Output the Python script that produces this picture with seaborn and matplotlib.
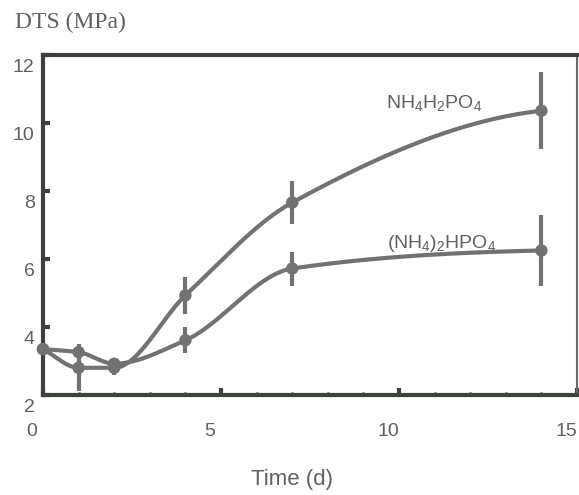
import numpy as np
import pandas as pd
import matplotlib
matplotlib.use("Agg")
import matplotlib.pyplot as plt
import matplotlib.transforms as mtransforms
import seaborn as sns

# dados
tempo = [0, 1, 2, 4, 7, 14]
dts_nh4h2po4 = [3.35, 2.80, 2.80, 4.93, 7.66, 10.36]
err_nh4h2po4 = [0.0, 0.69, 0.22, 0.55, 0.63, 1.13]
dts_nh42hpo4 = [3.35, 3.26, 2.92, 3.61, 5.72, 6.25]
err_nh42hpo4 = [0.0, 0.12, 0.15, 0.38, 0.50, 1.03]
rotulos = [r"NH$_4$H$_2$PO$_4$", r"(NH$_4$)$_2$HPO$_4$"]


def pchip(x, y, xs):
    # curva suave monotona entre os pontos medidos
    x = np.asarray(x, float)
    y = np.asarray(y, float)
    h = np.diff(x)
    d = np.diff(y) / h
    m = np.zeros_like(y)
    m[0], m[-1] = d[0], d[-1] * 0.3
    for k in range(1, len(x) - 1):
        if d[k - 1] * d[k] > 0:
            w1 = 2 * h[k] + h[k - 1]
            w2 = h[k] + 2 * h[k - 1]
            m[k] = (w1 + w2) / (w1 / d[k - 1] + w2 / d[k])
    idx = np.clip(np.searchsorted(x, xs) - 1, 0, len(x) - 2)
    t = (xs - x[idx]) / h[idx]
    h00 = 2 * t**3 - 3 * t**2 + 1
    h10 = t**3 - 2 * t**2 + t
    h01 = -2 * t**3 + 3 * t**2
    h11 = t**3 - t**2
    return h00 * y[idx] + h10 * h[idx] * m[idx] + h01 * y[idx + 1] + h11 * h[idx] * m[idx + 1]


sns.set_style("ticks")
plt.rcParams["font.family"] = ["Liberation Sans", "DejaVu Sans"]
plt.rcParams["mathtext.default"] = "regular"

cor_linha = "#727272"
cor_eixo = "#3d423d"
cor_texto = "#606060"

fig = plt.figure(figsize=(5.79, 4.95), dpi=100)
fig.patch.set_facecolor("white")
ax = fig.add_axes([43 / 579, 1 - 395 / 495, 534 / 579, 340 / 495])
ax.set_facecolor("white")

xs = np.linspace(0, 14, 300)
for y, e in [(dts_nh4h2po4, err_nh4h2po4), (dts_nh42hpo4, err_nh42hpo4)]:
    curva = pd.DataFrame({"t": xs, "v": pchip(tempo, y, xs)})
    sns.lineplot(data=curva, x="t", y="v", color=cor_linha, lw=3, ax=ax,
                 clip_on=False, zorder=3)
    ax.errorbar(tempo, y, yerr=e, fmt="none", ecolor=cor_linha, elinewidth=3,
                capsize=0, zorder=3, clip_on=False)
    sns.scatterplot(x=tempo, y=y, color=cor_linha, s=80, edgecolor="none",
                    ax=ax, zorder=4, clip_on=False)

ax.text(11.0, 10.6, rotulos[0], fontsize=14, color=cor_texto, ha="center",
        va="center")
ax.text(11.2, 6.45, rotulos[1], fontsize=14, color=cor_texto, ha="center",
        va="center")

ax.set_xlim(0, 15)
ax.set_ylim(2, 12)
ax.set_xticks([0, 5, 10, 15])
ax.set_xticks(range(0, 16), minor=True)
ax.set_yticks([2, 4, 6, 8, 10, 12])
ax.set_xlabel("")
ax.set_ylabel("")

for s in ax.spines.values():
    s.set_visible(True)
    s.set_color(cor_eixo)
    s.set_linewidth(3)
ax.spines["right"].set_linewidth(1.5)
ax.spines["right"].set_color("#6a6a6a")

ax.tick_params(axis="both", which="major", direction="in", length=5, width=3,
               colors=cor_eixo, labelcolor=cor_texto, labelsize=14)
ax.tick_params(axis="x", which="major", pad=20)
ax.tick_params(axis="y", which="major", pad=6)
ax.tick_params(axis="x", which="minor", direction="in", length=2, width=2,
               colors=cor_eixo)
ax.tick_params(top=False, right=False)

# os rotulos do original estao deslocados em relacao aos ticks
desloc_x = mtransforms.ScaledTranslation(-11 / 100, 0, fig.dpi_scale_trans)
desloc_y = mtransforms.ScaledTranslation(0, -10 / 100, fig.dpi_scale_trans)
for lb in ax.get_xticklabels():
    lb.set_transform(lb.get_transform() + desloc_x)
for lb in ax.get_yticklabels():
    lb.set_transform(lb.get_transform() + desloc_y)

fig.text(15 / 579, 1 - 22 / 495, "DTS (MPa)", fontsize=17, color=cor_texto,
         family=["Liberation Serif", "DejaVu Serif"], ha="left", va="center")
fig.text(292 / 579, 1 - 479 / 495, "Time (d)", fontsize=16, color=cor_texto,
         ha="center", va="center")

fig.savefig("out.png", dpi=100)
